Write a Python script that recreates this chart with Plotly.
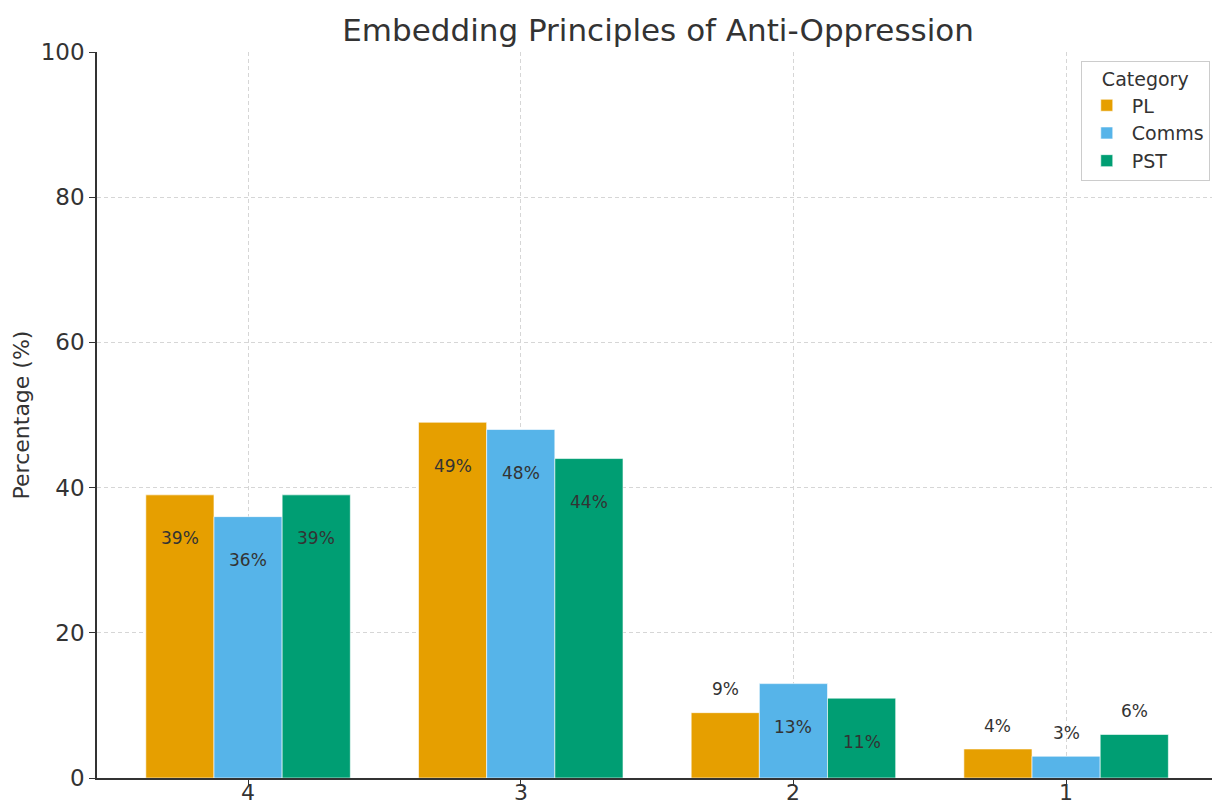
import plotly.graph_objects as go

# Response levels (x axis) and percentages per category
levels = ["4", "3", "2", "1"]
series_names = ["PL", "Comms", "PST"]
pl_values = [39, 49, 9, 4]
comms_values = [36, 48, 13, 3]
pst_values = [39, 44, 11, 6]
series_colors = ["#E69F00", "#56B4E9", "#009E73"]
y_ticks = [0, 20, 40, 60, 80, 100]

all_values = [pl_values, comms_values, pst_values]
x_pos = list(range(len(levels)))
bar_w = 0.25
text_color = "#333333"
grid_color = "#d6d6d6"

fig = go.Figure()
for name, vals, color in zip(series_names, all_values, series_colors):
    fig.add_trace(go.Bar(
        x=x_pos, y=vals, name=name,
        marker=dict(color=color, line=dict(color="rgba(255,255,255,0.6)", width=1)),
        width=bar_w,
    ))

# value labels: inside near the top for tall bars, just above short ones
annotations = []
for j, vals in enumerate(all_values):
    for i, v in enumerate(vals):
        y_lab = v - 6 if v > 10 else v + 3.2
        annotations.append(dict(
            x=i + (j - 1) * bar_w, y=y_lab, xref="x", yref="y",
            text=f"{v}%", showarrow=False,
            font=dict(size=17, color=text_color, family="DejaVu Sans"),
            xanchor="center", yanchor="middle",
        ))

# category tick labels placed just under the axis
for i, lab in zip(x_pos, levels):
    annotations.append(dict(
        x=i, y=0, xref="x", yref="paper", yshift=-14,
        text=lab, showarrow=False,
        font=dict(size=22, color=text_color, family="DejaVu Sans"),
        xanchor="center", yanchor="middle",
    ))

fig.update_layout(
    width=1212, height=804,
    margin=dict(l=97, r=0, t=52, b=26),
    paper_bgcolor="white", plot_bgcolor="white",
    barmode="group", bargap=0.25, bargroupgap=0,
    font=dict(family="DejaVu Sans", color=text_color),
    title=dict(text="Embedding Principles of Anti-Oppression",
               x=0.543, xanchor="center", y=1 - 30 / 804, yanchor="middle",
               font=dict(size=31, color=text_color)),
    annotations=annotations,
    legend=dict(
        x=0.998, xanchor="right", y=0.988, yanchor="top",
        bgcolor="white", bordercolor="#cccccc", borderwidth=1,
        font=dict(size=19, color=text_color),
        title=dict(text="Category", side="top center", font=dict(size=19, color=text_color)),
        itemwidth=40,
    ),
    xaxis=dict(
        range=[-0.554, 3.535],
        tickmode="array", tickvals=x_pos, ticktext=["", "", "", ""],
        showgrid=True, gridcolor=grid_color, griddash="4px,3px", gridwidth=1,
        showline=True, linecolor="#333333", linewidth=1.5,
        ticks="outside", ticklen=6, tickcolor="#333333",
        zeroline=False, automargin=False,
    ),
    yaxis=dict(
        range=[0, 100], tickvals=y_ticks,
        tickfont=dict(size=23, color=text_color),
        title=dict(text="Percentage (%)", font=dict(size=22, color=text_color), standoff=5),
        showgrid=True, gridcolor=grid_color, griddash="4px,3px", gridwidth=1,
        showline=True, linecolor="#333333", linewidth=1.5,
        ticks="outside", ticklen=6, tickcolor="#333333",
        zeroline=False, automargin=False,
    ),
)

fig.write_html("out.html")
